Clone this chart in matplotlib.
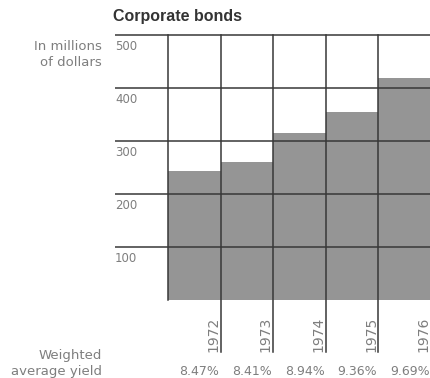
import matplotlib
matplotlib.use("Agg")
import matplotlib.pyplot as plt
import matplotlib.transforms as mtransforms

years = ["1972", "1973", "1974", "1975", "1976"]
amounts = [243, 260, 316, 355, 418]
yields = ["8.47%", "8.41%", "8.94%", "9.36%", "9.69%"]
yticks = [100, 200, 300, 400, 500]

plt.rcParams['font.family'] = ['DejaVu Sans']

W, H = 431, 378
fig = plt.figure(figsize=(W / 100, H / 100), dpi=100)
fig.patch.set_facecolor('white')

left, right, top, bottom = 168, 431, 35, 300
ax = fig.add_axes([left / W, 1 - bottom / H, (right - left) / W, (bottom - top) / H])
ax.set_xlim(0, 5)
ax.set_ylim(0, 500)
ax.axis('off')

fill = '#959595'
linec = '#383838'
textc = '#7e7e7e'

xs = [i + 0.5 for i in range(len(years))]
ax.bar(xs, amounts, width=1.0, color=fill, edgecolor='none', zorder=1)

blend = mtransforms.blended_transform_factory(ax.transAxes, ax.transData)
ext = (115 - left) / (right - left)
for v in yticks:
    ax.plot([ext, 1], [v, v], transform=blend, color=linec, lw=1.1,
            clip_on=False, zorder=3, solid_capstyle='butt')
    ax.text(ext, v - 10, str(v), transform=blend, ha='left', va='top',
            fontsize=8.5, color=textc)

# vertical lines
ax.plot([0, 0], [0, 500], color=linec, lw=1.1, clip_on=False, zorder=3)
for i in range(1, len(years)):
    ax.plot([i, i], [-98, 500], color=linec, lw=1.1, clip_on=False, zorder=3)

for i, y in enumerate(years):
    ax.text(i + 0.86, -98, y, rotation=90, ha='center', va='bottom',
            fontsize=10, color=textc)

for i, yl in enumerate(yields):
    ax.text(i + 0.6, -135, yl, ha='center', va='center', fontsize=9, color=textc)

fig.text(113 / W, 1 - 16 / H, "Corporate bonds", ha='left', va='center',
         fontsize=11.5, fontweight='bold', color='#333333',
         family=['Liberation Sans'])
fig.text(102 / W, 1 - 46 / H, "In millions", ha='right', va='center',
         fontsize=9.5, color=textc)
fig.text(102 / W, 1 - 62 / H, "of dollars", ha='right', va='center',
         fontsize=9.5, color=textc)
fig.text(102 / W, 1 - 355 / H, "Weighted", ha='right', va='center',
         fontsize=9.5, color=textc)
fig.text(102 / W, 1 - 371 / H, "average yield", ha='right', va='center',
         fontsize=9.5, color=textc)

fig.savefig("out.png", dpi=100, facecolor='white')
